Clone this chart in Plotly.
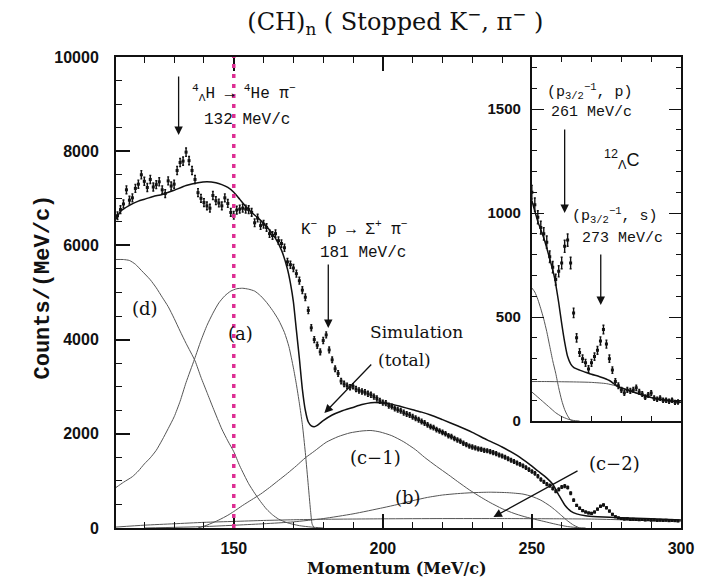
import plotly.graph_objects as go

# ---------------- measured spectrum, main panel (1 MeV/c bins) ----------------
momentum = list(range(111, 300))
counts = [
    6630, 6760, 6880, 7180, 6960, 7010, 7210, 7300, 7500, 7360,   # 111-120
    7230, 7400, 7240, 7290, 7350, 7180, 7100, 7370, 7260, 7300,   # 121-130
    7590, 7760, 7790, 7980, 7800, 7590, 7400, 7120, 7000, 6910,   # 131-140
    6840, 6790, 7060, 6950, 6900, 6840, 7010, 6890, 6700, 6640,   # 141-150
    6750, 6770, 6790, 6770, 6760, 6700, 6480, 6580, 6420, 6450,   # 151-160
    6380, 6250, 6210, 6250, 6100, 6040, 5950, 5650, 5590, 5520,   # 161-170
    5400, 5250, 5050, 4900, 4620, 4250, 4000, 3880, 3740, 3980,   # 171-180
    4100, 3780, 3570, 3380, 3280, 3120, 3060, 3020, 2990, 3010,   # 181-190
    2950, 2920, 2900, 2880, 2850, 2830, 2790, 2750, 2700, 2660,   # 191-200
    2650, 2600, 2580, 2540, 2510, 2490, 2450, 2420, 2400, 2360,   # 201-210
    2330, 2300, 2260, 2230, 2190, 2150, 2130, 2090, 2060, 2030,   # 211-220
    2000, 1960, 1940, 1900, 1870, 1840, 1800, 1770, 1740, 1720,   # 221-230
    1700, 1680, 1670, 1650, 1640, 1620, 1600, 1580, 1550, 1530,   # 231-240
    1500, 1470, 1440, 1410, 1380, 1350, 1320, 1280, 1240, 1200,   # 241-250
    1160, 1100, 1030, 980, 930, 900, 840, 780, 820, 870,          # 251-260
    890, 860, 740, 590, 480, 420, 370, 340, 320, 310,             # 261-270
    340, 400, 460, 490, 430, 360, 290, 240, 215, 200,             # 271-280
    190, 195, 180, 185, 180, 175, 180, 170, 175, 165,             # 281-290
    170, 160, 165, 160, 165, 155, 160, 155, 150,                  # 291-299
]

# ---------------- simulation curves, main panel ----------------
total_p = [110.5, 112, 115, 118, 120, 123, 126, 130, 134, 138, 141, 144, 146, 148,
           150, 152, 154, 156, 158, 160, 162, 164, 166, 168, 169, 170, 171, 172,
           173, 174, 175, 176, 177, 178, 180, 183, 186, 190, 193, 196, 199, 203,
           206, 210, 213, 216, 220, 225, 230, 235, 240, 245, 249, 252, 255, 257,
           259, 261, 263, 265, 268, 272, 280, 290, 300]
total_c = [6560, 6720, 6850, 6940, 6980, 7040, 7080, 7170, 7270, 7330, 7350, 7330, 7290, 7230,
           7130, 6980, 6830, 6700, 6590, 6470, 6330, 6150, 5900, 5500, 5200, 4800, 4200, 3600,
           2950, 2500, 2250, 2170, 2150, 2180, 2280, 2400, 2480, 2560, 2620, 2660, 2660, 2630,
           2580, 2510, 2460, 2400, 2300, 2170, 2030, 1870, 1720, 1540, 1360, 1210, 1060, 930,
           700, 490, 360, 300, 260, 240, 215, 195, 170]

comp_d_p = [110.5, 113, 115, 117, 119, 122, 124, 126, 128, 130, 132, 134, 137, 139,
            141, 143, 146, 148, 150, 152, 155, 157, 159, 161, 163, 165, 168, 172, 176, 180]
comp_d_c = [5700, 5700, 5680, 5600, 5470, 5270, 5100, 4900, 4700, 4450, 4180, 3920, 3550, 3200,
            2880, 2560, 2100, 1850, 1620, 1320, 940, 740, 560, 400, 280, 190, 110, 50, 20, 0]

comp_a_p = [110.5, 113, 116, 118, 120, 122, 124, 126, 128, 130, 132, 134, 136.8, 139,
            141, 143, 145, 147, 149, 151, 153, 155, 157, 159, 161, 163, 165, 167, 168.5,
            170, 171, 172, 173, 174, 175, 175.7, 176.3, 177]
comp_a_c = [860, 970, 1090, 1210, 1360, 1490, 1650, 1870, 2110, 2360, 2690, 3090, 3580, 3980,
            4300, 4560, 4780, 4930, 5030, 5080, 5090, 5070, 5030, 4930, 4790, 4620, 4420, 4150, 3850,
            3400, 3050, 2650, 2200, 1600, 900, 400, 80, 0]

comp_c1_p = [138, 141, 145, 148, 150, 153, 156, 159, 162, 165, 168, 171, 174, 177, 181,
             185, 189, 193, 196, 199, 203, 207, 211, 214, 218, 222, 225, 229, 233, 236,
             240, 244, 247, 250, 254, 258, 262, 266, 268]
comp_c1_c = [0, 60, 170, 270, 350, 480, 600, 720, 860, 1010, 1160, 1320, 1490, 1630, 1820,
             1940, 2020, 2060, 2070, 2040, 1960, 1830, 1660, 1500, 1310, 1130, 990, 810, 650, 540,
             410, 310, 250, 200, 140, 80, 30, 5, 0]

comp_b_p = [120, 140, 160, 170, 180, 190, 200, 205, 210, 215, 220, 225, 230, 236, 242,
            247, 250, 253, 256, 258, 260, 262, 264, 266]
comp_b_c = [0, 30, 90, 130, 200, 300, 430, 500, 580, 650, 700, 730, 750, 760, 750,
            720, 670, 590, 470, 370, 260, 150, 60, 0]

comp_c2_p = [110.5, 120, 130, 140, 150, 160, 170, 180, 200, 220, 240, 260, 270, 280, 290, 300]
comp_c2_c = [20, 60, 90, 120, 140, 160, 175, 185, 195, 200, 200, 195, 190, 175, 160, 145]

# ---------------- inset: the region above 250 MeV/c ----------------
inset_p = list(range(250, 300))
inset_counts = [
    1100, 1040, 980, 930, 900, 860, 790, 740, 680, 720,   # 250-259
    760, 840, 870, 760, 520, 400, 330, 300, 280, 250,     # 260-269
    280, 310, 340, 385, 440, 370, 300, 245, 190, 170,     # 270-279
    150, 135, 150, 145, 150, 160, 140, 130, 115, 125,     # 280-289
    135, 110, 105, 110, 100, 100, 95, 100, 90, 92,        # 290-299
]
inset_total_p = [250, 252, 254, 256, 257.6, 259, 260, 261, 262, 263, 264, 266, 268, 270,
                 273, 276, 279, 282, 285, 288, 291, 294, 297, 300]
inset_total_c = [1060, 960, 880, 780, 690, 570, 470, 380, 310, 275, 258, 245, 235, 225,
                 212, 195, 165, 150, 135, 122, 110, 102, 96, 90]
inset_b_p = [250, 251, 252, 253, 254, 255, 256, 257, 258, 259, 260, 261, 262, 263, 264]
inset_b_c = [640, 620, 585, 540, 490, 430, 360, 290, 230, 160, 100, 55, 25, 5, 0]
inset_c1_p = [250, 252, 254, 256, 258, 260, 262, 264, 266]
inset_c1_c = [140, 115, 90, 65, 40, 22, 10, 3, 0]
inset_c2_p = [250, 255, 260, 265, 270, 275, 278, 282, 285, 288, 291, 294, 297, 300]
inset_c2_c = [190, 190, 189, 188, 186, 180, 170, 150, 135, 122, 110, 102, 96, 90]

SERIF = "DejaVu Serif"
MONO = "Liberation Mono"
SANS = "Liberation Sans"
INK = "#111111"
THIN = "#555555"
PINK = "#dd2e93"

fig = go.Figure()


def curve(xs, ys, xa, ya, color=THIN, width=1.0):
    fig.add_trace(go.Scatter(x=xs, y=ys, mode="lines", xaxis=xa, yaxis=ya,
                             line=dict(color=color, width=width, shape="spline", smoothing=0.6),
                             hoverinfo="skip", showlegend=False))


# main panel
for xs, ys in [(comp_d_p, comp_d_c), (comp_a_p, comp_a_c), (comp_c1_p, comp_c1_c),
               (comp_b_p, comp_b_c), (comp_c2_p, comp_c2_c)]:
    curve(xs, ys, "x", "y")
curve(total_p, total_c, "x", "y", color=INK, width=1.5)
fig.add_trace(go.Scatter(x=momentum, y=counts, mode="markers", xaxis="x", yaxis="y",
                         marker=dict(color=INK, size=3, symbol="square"),
                         error_y=dict(type="sqrt", color=INK, thickness=1.4, width=1),
                         showlegend=False))

# inset panel
for xs, ys in [(inset_b_p, inset_b_c), (inset_c1_p, inset_c1_c), (inset_c2_p, inset_c2_c)]:
    curve(xs, ys, "x2", "y2")
curve(inset_total_p, inset_total_c, "x2", "y2", color=INK, width=1.5)
fig.add_trace(go.Scatter(x=inset_p, y=inset_counts, mode="markers", xaxis="x2", yaxis="y2",
                         marker=dict(color=INK, size=3, symbol="square"),
                         error_y=dict(type="sqrt", color=INK, thickness=1.4, width=1),
                         showlegend=False))

axis_common = dict(showline=True, linecolor=INK, linewidth=2, mirror="allticks",
                   ticks="inside", tickcolor=INK, showgrid=False, zeroline=False)

fig.update_layout(
    width=706, height=578,
    margin=dict(l=116, r=14, t=57, b=50),
    paper_bgcolor="white", plot_bgcolor="white",
    xaxis=dict(range=[110.5, 300], tick0=0, dtick=50, ticklen=14, tickwidth=1.5,
               minor=dict(dtick=10, ticklen=6, ticks="inside", tickcolor=INK, tickwidth=1),
               tickfont=dict(family=SANS, size=16, color=INK, weight="bold"),
               ticklabelstandoff=5, **axis_common),
    yaxis=dict(range=[0, 10000], tick0=0, dtick=2000, ticklen=14, tickwidth=1.5,
               tickformat="d",
               minor=dict(dtick=500, ticklen=6, ticks="inside", tickcolor=INK, tickwidth=1),
               tickfont=dict(family=SANS, size=16, color=INK, weight="bold"),
               ticklabelstandoff=12, **{**axis_common, "mirror": True}),
    xaxis2=dict(domain=[0.736, 1.0], anchor="y2", range=[250, 300],
                tickvals=[260, 270, 280, 290], ticklen=5, tickwidth=1,
                showticklabels=False, **axis_common),
    yaxis2=dict(domain=[0.227, 1.0], anchor="x2", range=[0, 1750], tick0=0, dtick=500,
                ticklen=12, tickwidth=1.2, tickformat="d",
                minor=dict(dtick=100, ticklen=5, ticks="inside", tickcolor=INK, tickwidth=1),
                tickfont=dict(family=SANS, size=15, color=INK, weight="bold"),
                ticklabelstandoff=6, **axis_common),
    title=dict(text="(CH)<sub>n</sub> ( Stopped K<sup>−</sup>, π<sup>−</sup> )",
               x=0.56, xanchor="center", y=0.962, yanchor="middle",
               font=dict(family=SERIF, size=24, color=INK)),
)

# white card under the inset so the main curves do not show through it
fig.add_shape(type="rect", xref="x2 domain", yref="y2 domain", x0=0, x1=1, y0=0, y1=1,
              fillcolor="white", line=dict(width=0), layer="below")

# dotted marker line at 150 MeV/c
fig.add_shape(type="line", xref="x", yref="y domain", x0=150, x1=150, y0=0, y1=1,
              line=dict(color=PINK, width=3.5, dash="4px,6px"), layer="above")

# axis titles
fig.add_annotation(text="Momentum (MeV/c)", xref="paper", yref="paper", x=0.497, y=-0.086,
                   xanchor="center", yanchor="middle", showarrow=False,
                   font=dict(family=SERIF, size=16, color=INK, weight="bold"))
fig.add_annotation(text="Counts/(MeV/c)", xref="paper", yref="paper", x=-0.128, y=0.512,
                   xanchor="center", yanchor="middle", textangle=-90, showarrow=False,
                   font=dict(family=MONO, size=22, color=INK, weight="bold"))

mono = dict(family=MONO, size=16, color=INK)
serif = dict(family=SERIF, size=18, color=INK)


def label(text, x, y, font, xr="x", yr="y"):
    fig.add_annotation(text=text, x=x, y=y, xref=xr, yref=yr, showarrow=False, font=font,
                       xanchor="center", yanchor="middle")


def arrow(x0, y0, x1, y1, xr="x", yr="y"):
    fig.add_annotation(x=x1, y=y1, ax=x0, ay=y0, xref=xr, yref=yr, axref=xr, ayref=yr,
                       text="", showarrow=True, arrowhead=2, arrowsize=1.3,
                       arrowwidth=1.3, arrowcolor=INK)


# main panel labels
label("<sup>4</sup><sub>Λ</sub>H → <sup>4</sup>He π<sup>−</sup>", 153.5, 9235, mono)
label("132 MeV/c", 154.6, 8662, mono)
arrow(131.5, 9617, 131.5, 8343)

label("K<sup>−</sup> p → Σ<sup>+</sup> π<sup>−</sup>", 190.6, 6369, mono)
label("181 MeV/c", 193.2, 5838, mono)
arrow(181.7, 5626, 181.7, 4246)

label("Simulation", 211.4, 4161, dict(family=SERIF, size=17, color=INK))
label("(total)", 207.1, 3567, dict(family=SERIF, size=17, color=INK))
arrow(196.6, 3503, 180.4, 2441)

label("(d)", 120.3, 4671, serif)
label("(a)", 152.3, 4140, serif)
label("(c−1)", 197.5, 1507, serif)
label("(b)", 208.4, 658, serif)
label("(c−2)", 277.6, 1380, serif)
arrow(265.8, 1231, 237.1, 233)

# inset labels
mono_s = dict(family=MONO, size=15, color=INK)
label("(p<sub>3/2</sub><sup>−1</sup>, p)", 269.5, 1582, mono_s, "x2", "y2")
label("261 MeV/c", 270.1, 1481, mono_s, "x2", "y2")
arrow(261, 1409, 261, 1000, "x2", "y2")
label("<sup>12</sup><sub>Λ</sub>C", 280.2, 1255, dict(family=SANS, size=18, color=INK), "x2", "y2")
label("(p<sub>3/2</sub><sup>−1</sup>, s)", 278.0, 990, mono_s, "x2", "y2")
label("273 MeV/c", 280.4, 880, mono_s, "x2", "y2")
arrow(273.1, 808, 273.1, 558, "x2", "y2")

fig.write_html("out.html")
